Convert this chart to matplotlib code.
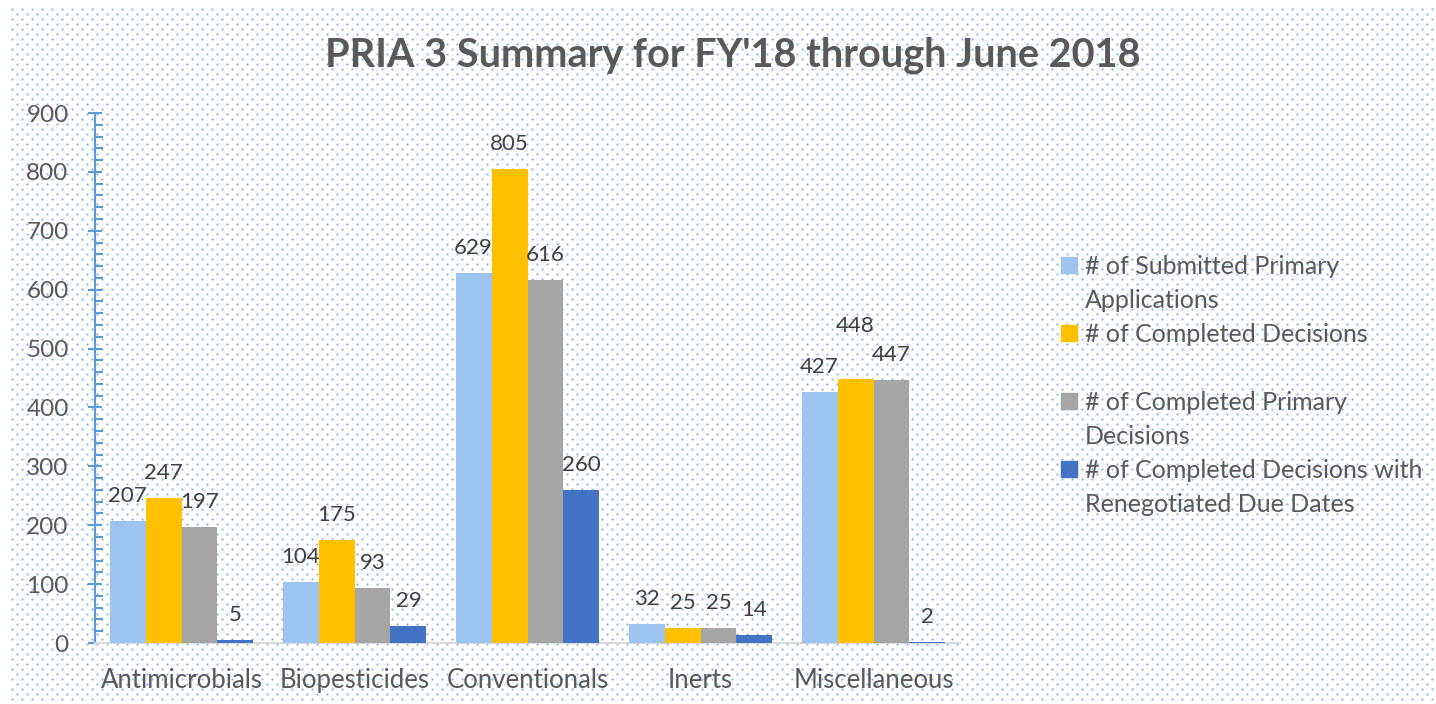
import matplotlib
matplotlib.use("Agg")
import matplotlib.pyplot as plt
import numpy as np
from matplotlib.ticker import MultipleLocator
from matplotlib.lines import Line2D

categories = ["Antimicrobials", "Biopesticides", "Conventionals", "Inerts", "Miscellaneous"]
series_names = ["# of Submitted Primary Applications", "# of Completed Decisions",
                "# of Completed Primary Decisions", "# of Completed Decisions with Renegotiated Due Dates"]
submitted = [207, 104, 629, 32, 427]
completed = [247, 175, 805, 25, 448]
completed_primary = [197, 93, 616, 25, 447]
renegotiated = [5, 29, 260, 14, 2]
title = "PRIA 3 Summary for FY'18 through June 2018"

colors = ["#9DC3F0", "#FFC000", "#A5A5A5", "#4472C4"]
series = [submitted, completed, completed_primary, renegotiated]

plt.rcParams['font.family'] = ['Lato', 'DejaVu Sans']

W, H = 1436, 704
fig = plt.figure(figsize=(W / 100, H / 100), dpi=100)
fig.patch.set_facecolor('white')

# dotted background texture (decoration only)
tex = np.ones((H, W, 3))
dot_rgb = np.array([110, 160, 228]) / 255.0
kernel = np.array([[0.15, 0.4, 0.15], [0.4, 0.85, 0.4], [0.15, 0.4, 0.15]])
alpha = np.zeros((H, W))
for r, yy in enumerate(range(9, H - 1, 5)):
    x0 = 12 if r % 2 == 0 else 17
    for xx in range(x0, W - 1, 10):
        alpha[yy - 1:yy + 2, xx - 1:xx + 2] = np.maximum(alpha[yy - 1:yy + 2, xx - 1:xx + 2], kernel)
tex = tex * (1 - alpha[..., None]) + dot_rgb[None, None, :] * alpha[..., None]
fig.figimage(tex, xo=0, yo=0, origin='upper', zorder=-10)

ax = fig.add_axes([95 / W, 1 - 643 / H, 865 / W, 530 / H])
ax.set_facecolor('none')

x = np.arange(len(categories))
w = 0.208
offsets = [-1.5, -0.5, 0.5, 1.5]
for si, (s, vals, c, off) in enumerate(zip(series_names, series, colors, offsets)):
    bars = ax.bar(x + off * w, vals, width=w, color=c, label=s, zorder=3)
    for ci, (b, v) in enumerate(zip(bars, vals)):
        # label of Miscellaneous / completed decisions was lifted in the original
        dy = 38 if (si == 1 and ci == 4) else 18
        ax.annotate(str(v), (b.get_x() + b.get_width() / 2, v), xytext=(0, dy),
                    textcoords='offset points', ha='center', va='center',
                    fontsize=16, color='#404040')

ax.set_xlim(-0.5, 4.5)
ax.set_ylim(0, 900)
ax.yaxis.set_major_locator(MultipleLocator(100))
ax.yaxis.set_minor_locator(MultipleLocator(20))
ax.set_xticks(x)
ax.set_xticklabels(categories)
for sp in ['top', 'right']:
    ax.spines[sp].set_visible(False)
ax.spines['left'].set_color('#5B9BD5')
ax.spines['left'].set_linewidth(1.5)
ax.spines['bottom'].set_color('#D9D9D9')
ax.spines['bottom'].set_linewidth(1.5)
ax.tick_params(axis='y', which='major', direction='inout', length=10, width=1.5,
               color='#5B9BD5', labelsize=17.5, labelcolor='#595959', pad=14)
ax.tick_params(axis='y', which='minor', direction='in', length=6, width=1.5, color='#5B9BD5')
ax.tick_params(axis='x', length=0, labelsize=18.5, labelcolor='#595959', pad=18)

fig.text(733 / W, 1 - 55 / H, title, ha='center', va='center', fontsize=28.5,
         fontweight='bold', color='#595959')

# legend: one row per text line, markers on first lines
lines = [("# of Submitted Primary", colors[0]), ("Applications", None),
         ("# of Completed Decisions", colors[1]), (" ", None),
         ("# of Completed Primary", colors[2]), ("Decisions", None),
         ("# of Completed Decisions with", colors[3]), ("Renegotiated Due Dates", None)]
handles = []
labels = []
for t, c in lines:
    h = Line2D([], [], linestyle='none', marker='s', markersize=11,
               color=c if c is not None else 'none')
    handles.append(h)
    labels.append(t)
leg = fig.legend(handles, labels, loc='upper left', bbox_to_anchor=(1046 / W, 1 - 242 / H),
                 frameon=False, fontsize=18, labelcolor='#595959', handlelength=0.8,
                 handletextpad=0.25, labelspacing=0.44, borderpad=0)

fig.savefig("out.png", dpi=100)
